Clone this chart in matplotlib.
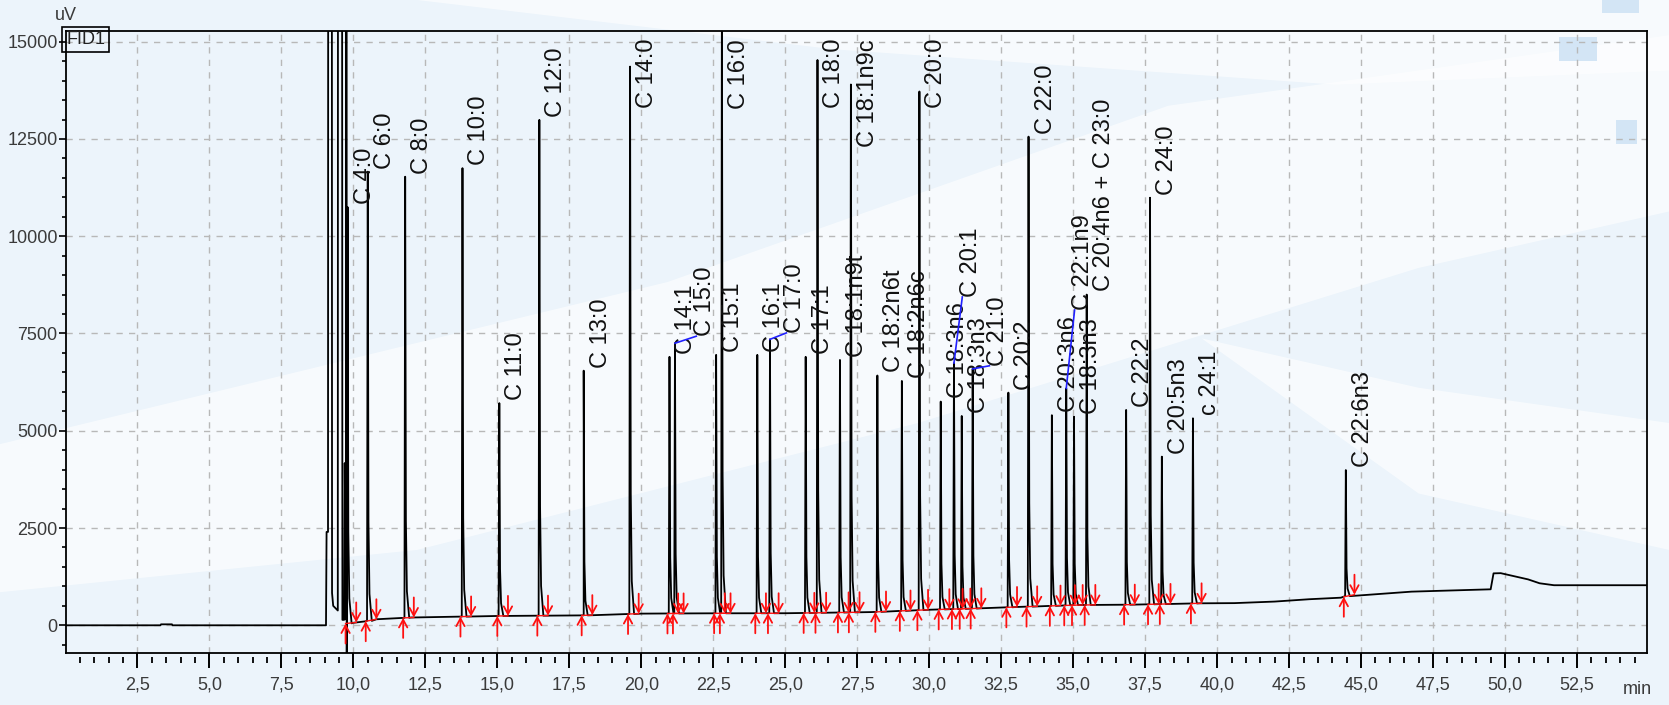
import numpy as np
import matplotlib.pyplot as plt
from matplotlib import font_manager
from matplotlib.patches import Polygon, Rectangle

# ---- data ----
peak_names = ['C 4:0', 'C 6:0', 'C 8:0', 'C 10:0', 'C 11:0', 'C 12:0', 'C 13:0', 'C 14:0',
              'C 14:1', 'C 15:0', 'C 15:1', 'C 16:0', 'C 16:1', 'C 17:0', 'C 17:1', 'C 18:0',
              'C 18:1n9t', 'C 18:1n9c', 'C 18:2n6t', 'C 18:2n6c', 'C 20:0', 'C 18:3n6', 'C 20:1',
              'C 18:3n3', 'C 21:0', 'C 20:2', 'C 22:0', 'C 20:3n6', 'C 22:1n9', 'C 18:3n3',
              'C 20:4n6 + C 23:0', 'C 22:2', 'C 24:0', 'C 20:5n3', 'c 24:1', 'C 22:6n3']
peak_time = [9.80, 10.50, 11.80, 13.79, 15.07, 16.46, 18.00, 19.61,
             20.98, 21.17, 22.60, 22.80, 24.03, 24.47, 25.71, 26.12,
             26.90, 27.28, 28.20, 29.05, 29.66, 30.40, 30.86,
             31.13, 31.51, 32.75, 33.45, 34.26, 34.76, 35.03,
             35.47, 36.84, 37.67, 38.08, 39.16, 44.47]
peak_apex = [10750, 11660, 11530, 11750, 5710, 12990, 6545, 14360,
             6900, 7250, 6950, 16500, 6950, 7350, 6900, 14530,
             6820, 13900, 6420, 6280, 13720, 5750, 6740,
             5380, 6590, 5980, 12560, 5400, 6090, 5360,
             8500, 5535, 10990, 4335, 5320, 3990]

# baseline drift (min, uV)
base_time = [0.0, 3.30, 3.32, 3.70, 3.72, 9.00, 9.95, 10.4, 10.8, 12.0, 15.0, 18.0, 20.0,
             22.0, 25.0, 28.0, 30.0, 31.8, 33.0, 35.2, 37.0, 39.4, 40.6, 42.0, 43.2, 44.3,
             44.6, 46.75, 49.5, 49.6, 49.85, 50.8, 51.2, 51.7, 55.0]
base_signal = [0, 0, 25, 25, 0, 0, 60, 100, 155, 200, 240, 255, 300,
               308, 310, 340, 400, 437, 470, 522, 530, 565, 570, 610, 670, 710,
               780, 865, 925, 1335, 1340, 1180, 1080, 1030, 1030]

# solvent front (off scale)
solvent_time = [9.05, 9.07, 9.12, 9.13, 9.25, 9.26, 9.30, 9.46, 9.47, 9.60, 9.62, 9.68,
                9.70, 9.72, 9.745, 9.75, 9.765, 9.77, 9.775]
solvent_signal = [0, 2400, 2400, 30000, 30000, 830, 500, 380, 30000, 30000, 140, 140,
                  4170, 2200, 150, 30000, 30000, -750, 60]

# labels that the software moved away from their peak (min, uV)
label_shift = {'C 15:0': (0.45, 100), 'C 17:0': (0.28, 85), 'C 20:1': (0.0, 1620),
               'C 21:0': (0.29, 0), 'C 22:1n9': (0.0, 1935)}

x_ticks = [2.5, 5.0, 7.5, 10.0, 12.5, 15.0, 17.5, 20.0, 22.5, 25.0, 27.5, 30.0,
           32.5, 35.0, 37.5, 40.0, 42.5, 45.0, 47.5, 50.0, 52.5]
y_ticks = [0, 2500, 5000, 7500, 10000, 12500, 15000]

# ---- fonts ----
installed = {f.name for f in font_manager.fontManager.ttflist}
if 'Liberation Sans Narrow' in installed:
    tick_font, tick_size = 'Liberation Sans Narrow', 15
    lab_font, lab_size = 'Liberation Sans Narrow', 20.5
else:
    tick_font, tick_size = 'Liberation Sans', 13
    lab_font, lab_size = 'Liberation Sans', 17
plt.rcParams['font.family'] = [tick_font, 'DejaVu Sans']

W, H = 1669, 705
fig = plt.figure(figsize=(W / 100, H / 100), dpi=100)
fig.patch.set_facecolor('#ecf4fb')

# soft background swooshes
bg = [
    [(0, 0.37), (0, 0.16), (0.25, 0.22), (0.55, 0.40), (0.85, 0.62), (1.0, 0.70), (1.0, 0.95), (0.7, 0.85), (0.4, 0.60)],
    [(0.25, 1.0), (0.5, 0.93), (0.8, 0.88), (1.0, 0.90), (1.0, 1.0)],
    [(0.72, 0.52), (0.85, 0.45), (1.0, 0.40), (1.0, 0.22), (0.85, 0.30)],
]
for poly in bg:
    fig.patches.append(Polygon(poly, closed=True, transform=fig.transFigure,
                               fc='white', ec='none', alpha=0.6, zorder=-5))
for (x0, y0, w, h) in [(1559, 37, 38, 24), (1616, 120, 21, 24), (1602, 0, 37, 13)]:
    fig.patches.append(Rectangle((x0 / W, 1 - (y0 + h) / H), w / W, h / H,
                                 transform=fig.transFigure, fc='#d3e5f5', ec='none', zorder=-4))

ax = fig.add_axes([66 / W, 1 - 653 / H, (1647 - 66) / W, (653 - 31) / H])
ax.set_facecolor('none')
ax.set_xlim(0.02, 54.93)
ax.set_ylim(-712, 15275)

# ---- build trace ----
spike_dt = [-0.025, 0.0, 0.025, 0.06, 0.14]
spike_frac = [0.0, 1.0, 0.22, 0.06, 0.0]
pts = [(t, v) for t, v in zip(base_time, base_signal) if not (9.0 < t < 9.95)]
pts += list(zip(solvent_time, solvent_signal))
for t, a in zip(peak_time, peak_apex):
    b = np.interp(t, base_time, base_signal)
    for dt, f in zip(spike_dt, spike_frac):
        pts.append((t + dt, b + f * (a - b)))
pts.sort(key=lambda p: p[0])
tr = np.array(pts)
ax.plot(tr[:, 0], tr[:, 1], color='black', lw=1.3, zorder=4)

# ---- integration marks ----
arrow = dict(arrowstyle='->,head_length=0.55,head_width=0.3', color='#ff1010',
             lw=1.3, shrinkA=0, shrinkB=0)
for t in peak_time:
    s, e = t - 0.07, t + 0.30
    bs, be = np.interp(s, base_time, base_signal), np.interp(e, base_time, base_signal)
    ax.plot([s, e], [bs, be], color='#ff1010', lw=1.0, zorder=5)
    ax.annotate('', xy=(s, bs), xytext=(0, -20), textcoords='offset pixels',
                arrowprops=arrow, zorder=5)
    ax.annotate('', xy=(e, be), xytext=(0, 20), textcoords='offset pixels',
                arrowprops=arrow, zorder=5)

# ---- peak labels ----
labels = []
for name, t, a in zip(peak_names, peak_time, peak_apex):
    dx, dy = label_shift.get(name, (0, 0))
    lx, ly = t + 0.59 + dx, min(a, 15300) + 80 + dy
    txt = ax.text(lx, ly, name, rotation=90, ha='center', va='bottom',
                  fontsize=lab_size, family=[lab_font, 'DejaVu Sans'], color='#111111', zorder=6)
    labels.append(txt)
    if name in label_shift:
        ax.plot([t, lx - 0.3], [a, ly], color='#2020ff', lw=1.2, zorder=6)

fig.canvas.draw()
r = fig.canvas.get_renderer()
top_px = ax.transAxes.transform((0, 1))[1] - 8
for txt in labels:
    bb = txt.get_window_extent(r)
    if bb.y1 > top_px:
        x, y = txt.get_position()
        yd = ax.transData.transform((x, y))[1] - (bb.y1 - top_px)
        txt.set_position((x, ax.transData.inverted().transform((0, yd))[1]))

# ---- axes styling ----
for sp in ax.spines.values():
    sp.set_linewidth(1.3)
ax.set_xticks(x_ticks)
ax.set_xticklabels([f'{v:.1f}'.replace('.', ',') for v in x_ticks])
ax.set_yticks(y_ticks)
ax.set_yticklabels([str(v) for v in y_ticks])
ax.set_yticks(np.arange(-500, 15001, 500), minor=True)
ax.tick_params(axis='x', which='major', length=11, width=1.4, pad=6,
               labelsize=tick_size, labelcolor='#3a3a3a')
ax.tick_params(axis='y', which='major', length=5, width=1.2, pad=1,
               labelsize=tick_size, labelcolor='#3a3a3a')
ax.tick_params(axis='y', which='minor', length=3, width=1.2)
minor_x = [v for v in np.arange(0.5, 54.9, 0.5) if abs(v / 2.5 - round(v / 2.5)) > 1e-6]
ax.plot(minor_x, [-0.0105] * len(minor_x), '|', color='black', ms=5, mew=1.3,
        transform=ax.get_xaxis_transform(), clip_on=False)
ax.grid(True, which='major', color='#b8b8b8', lw=1.0, ls=(0, (4.5, 4.5)))
ax.set_axisbelow(True)

ax.text(0.0, 1.0, 'FID1', transform=ax.transAxes, ha='left', va='top', fontsize=tick_size,
        color='#222222', bbox=dict(boxstyle='square,pad=0.2', fc='none', ec='black', lw=1.2), zorder=7)
fig.text(66 / W, 1 - 16 / H, 'uV', ha='center', va='center', fontsize=tick_size, color='#3a3a3a')
fig.text(1637 / W, 1 - 689 / H, 'min', ha='center', va='center', fontsize=tick_size, color='#3a3a3a')

fig.savefig('out.png', dpi=100, facecolor=fig.get_facecolor())
